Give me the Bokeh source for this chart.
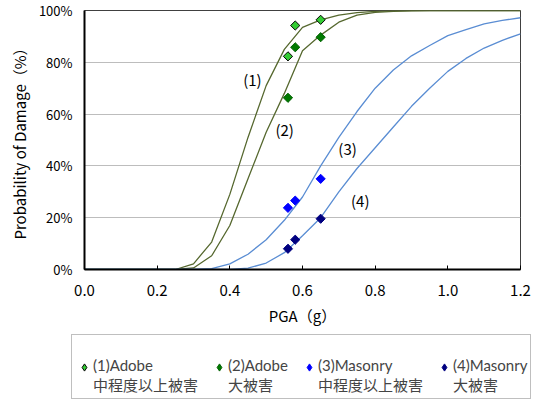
from bokeh.plotting import figure
from bokeh.layouts import column
from bokeh.models import Label, Legend, LegendItem, FixedTicker, PrintfTickFormatter
from bokeh.embed import file_html
from bokeh.resources import INLINE
import numpy as np

# ---- data ----
pga = [0.00, 0.05, 0.10, 0.15, 0.20, 0.25, 0.30, 0.35, 0.40, 0.45, 0.50, 0.55, 0.60,
       0.65, 0.70, 0.75, 0.80, 0.85, 0.90, 0.95, 1.00, 1.05, 1.10, 1.15, 1.20]
adobe1_curve = [0, 0, 0, 0, 0, 0, 2.2, 10.6, 29, 51, 71, 85, 93.5,
                96.4, 98.2, 99.2, 99.7, 99.9, 100, 100, 100, 100, 100, 100, 100]
adobe2_curve = [0, 0, 0, 0, 0, 0, 0.6, 5.3, 17, 35, 53, 68, 84.5,
                90.5, 95.5, 98.2, 99.3, 99.7, 99.9, 100, 100, 100, 100, 100, 100]
masonry3_curve = [0, 0, 0, 0, 0, 0, 0, 0.3, 2.2, 5.9, 11.5, 19, 28,
                  40, 51, 61, 70, 77, 82.5, 86.5, 90.3, 92.6, 94.8, 96.2, 97.2]
masonry4_curve = [0, 0, 0, 0, 0, 0, 0, 0, 0, 0.5, 2.5, 6.5, 13,
                  20, 30, 39, 47, 55, 63, 70, 76.5, 81.5, 85.5, 88.5, 91]

obs_pga = [0.56, 0.58, 0.65]
adobe1_obs = [82.3, 94.2, 96.4]
adobe2_obs = [66.3, 85.8, 89.7]
masonry3_obs = [23.8, 26.6, 35.0]
masonry4_obs = [8.0, 11.5, 19.6]

curve_labels = ["(1)", "(2)", "(3)", "(4)"]
curve_label_x = [0.462, 0.551, 0.724, 0.759]
curve_label_y = [73.3, 54.2, 46.7, 26.8]

legend_labels = ["\n(1)Adobe\n中程度以上被害", "\n(2)Adobe\n大被害",
                 "\n(3)Masonry\n中程度以上被害", "\n(4)Masonry\n大被害"]

x_ticks = [0.0, 0.2, 0.4, 0.6, 0.8, 1.0, 1.2]
y_ticks = [0, 20, 40, 60, 80, 100]
y_tick_labels = ["0%", "20%", "40%", "60%", "80%", "100%"]

FONT = "Noto Sans CJK JP"
LEG_FONT = "Lato, Noto Sans CJK JP"

series_obs = [adobe1_obs, adobe2_obs, masonry3_obs, masonry4_obs]
marker_fill = ["#33CC33", "#007A00", "#0000FF", "#000080"]
marker_line = ["black", "#006000", "#0000FF", "#000080"]

p = figure(width=539, height=330, x_range=(0, 1.2), y_range=(0, 100),
           output_backend="svg", toolbar_location=None,
           min_border_left=84, min_border_right=19, min_border_top=10, min_border_bottom=61,
           x_axis_label="PGA（g）", y_axis_label="Probability of Damage（%）")
p.background_fill_color = "white"
p.border_fill_color = "white"
p.outline_line_color = "#404040"
p.outline_line_width = 1

olive = "#56682F"
blue = "#5A8DD3"
p.line(pga, adobe1_curve, color=olive, line_width=1.3)
p.line(pga, adobe2_curve, color=olive, line_width=1.3)
p.line(pga, masonry3_curve, color=blue, line_width=1.3)
p.line(pga, masonry4_curve, color=blue, line_width=1.3)

ang = np.pi / 4
for ys, fc, lc in zip(series_obs, marker_fill, marker_line):
    p.scatter(obs_pga, ys, marker="square", angle=ang, size=6.5,
              fill_color=fc, line_color=lc, line_width=1)

for t, x, y in zip(curve_labels, curve_label_x, curve_label_y):
    p.add_layout(Label(x=x, y=y, text=t, text_align="center", text_baseline="middle",
                       text_font=FONT, text_font_size="15px", text_color="black"))

# axes
p.xaxis.ticker = FixedTicker(ticks=x_ticks)
p.xaxis.formatter = PrintfTickFormatter(format="%.1f")
p.yaxis.ticker = FixedTicker(ticks=y_ticks)
p.yaxis.major_label_overrides = {t: l for t, l in zip(y_ticks, y_tick_labels)}
for ax in (p.xaxis[0], p.yaxis[0]):
    ax.axis_line_color = "black"
    ax.axis_line_width = 2
    ax.minor_tick_line_color = None
    ax.major_label_text_font = FONT
    ax.axis_label_text_font = FONT
    ax.axis_label_text_font_style = "normal"
    ax.axis_label_text_color = "black"
    ax.major_label_text_color = "black"
p.xaxis.major_tick_in = 4
p.xaxis.major_tick_out = 0
p.xaxis.major_tick_line_color = "black"
p.xaxis.major_label_standoff = 15
p.xaxis.major_label_text_font_size = "15px"
p.xaxis.axis_label_text_font_size = "15px"
p.xaxis.axis_label_standoff = 6
p.yaxis.major_tick_in = 0
p.yaxis.major_tick_out = 0
p.yaxis.major_label_standoff = 12
p.yaxis.major_label_text_font_size = "13px"
p.yaxis.axis_label_text_font_size = "15px"
p.yaxis.axis_label_standoff = 6

p.xgrid.grid_line_color = None
p.ygrid.ticker = FixedTicker(ticks=y_ticks)
p.ygrid.grid_line_color = "#BDBDBD"
p.ygrid.grid_line_width = 1

# legend panel: same observed series, drawn outside its view, used only as legend glyphs
pl = figure(width=539, height=82, x_range=(0, 1.2), y_range=(200, 300),
            output_backend="svg", toolbar_location=None,
            x_axis_location=None, y_axis_location=None,
            min_border_left=0, min_border_right=0, min_border_top=0, min_border_bottom=0)
pl.grid.visible = False
pl.outline_line_color = None
pl.background_fill_color = "white"
pl.border_fill_color = "white"
leg_renderers = []
for ys, fc, lc in zip(series_obs, marker_fill, marker_line):
    leg_renderers.append(pl.scatter(obs_pga, ys, marker="diamond", size=8,
                                    fill_color=fc, line_color=lc, line_width=1))

legend = Legend(items=[LegendItem(label=l, renderers=[r]) for l, r in
                       zip(legend_labels, leg_renderers)],
                orientation="horizontal", location=(71, 13),
                label_text_font=LEG_FONT, label_text_font_size="15px",
                glyph_width=18, glyph_height=22, label_standoff=0, spacing=12,
                padding=3, margin=0, border_line_color="#808080", border_line_width=1,
                background_fill_alpha=1.0)
pl.add_layout(legend, "center")

layout = column(p, column(pl, spacing=0), spacing=0)
open("out.html", "w").write(file_html(layout, INLINE))
